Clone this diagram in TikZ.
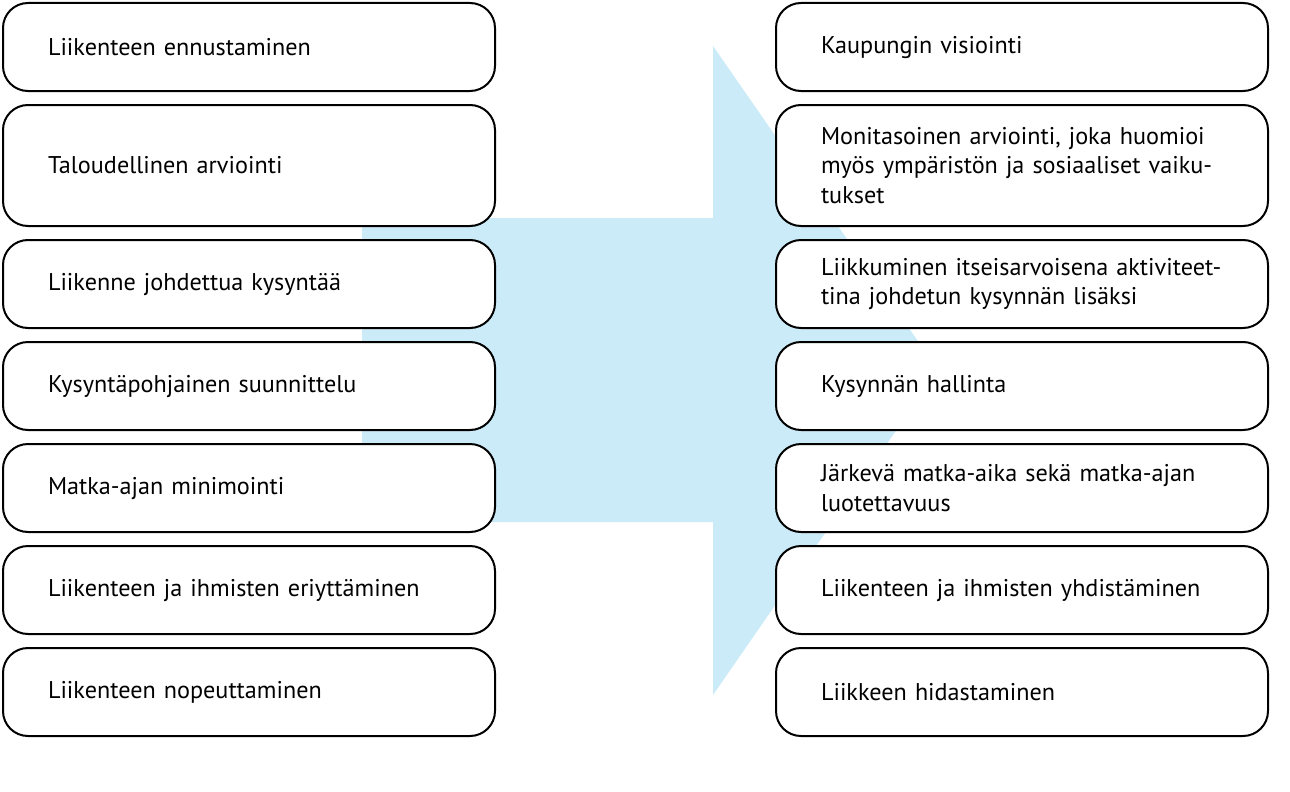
\documentclass[tikz,border=0pt]{standalone}
\usepackage{fontspec}
\setmainfont{PT Sans}
\usepackage{tikz}
\usetikzlibrary{positioning}

\definecolor{arrowblue}{RGB}{204,235,248}

\begin{document}
\begin{tikzpicture}[x=1pt,y=-1pt,node distance=14pt,
                    item node/.style={draw,line width=2pt,rounded corners=25pt,fill=white,
                      minimum height=88pt,text width=402pt,inner xsep=45pt,inner ysep=0pt,
                      outer sep=0pt,align=left,font=\fontsize{24.2}{29.5}\selectfont}]

  \useasboundingbox (0,0) rectangle (1290,792);

  % big arrow behind the boxes
  \fill[arrowblue] (362,218) -- (713,218) -- (713,46) -- (938,370)
    -- (713,695) -- (713,522) -- (362,522) -- cycle;

  % left column
  \node[item node,anchor=north west] (l1) at (3,3) {Liikenteen ennustaminen};
  \node[item node,minimum height=121pt] (l2) [below=of l1] {Taloudellinen arviointi};
  \node[item node] (l3) [below=of l2] {Liikenne johdettua kysyntää};
  \node[item node] (l4) [below=of l3] {Kysyntäpohjainen suunnittelu};
  \node[item node] (l5) [below=of l4] {Matka-ajan minimointi};
  \node[item node] (l6) [below=of l5] {Liikenteen ja ihmisten eriyttäminen};
  \node[item node] (l7) [below=of l6] {Liikenteen nopeuttaminen};

  % right column
  \node[item node,anchor=north west] (r1) at (776,3) {Kaupungin visiointi};
  \node[item node,minimum height=121pt] (r2) [below=of r1]
    {\mbox{Monitasoinen arviointi, joka huomioi}\\\mbox{myös ympäristön ja sosiaaliset vaiku-}\\tukset};
  \node[item node] (r3) [below=of r2]
    {\mbox{Liikkuminen itseisarvoisena aktiviteet-}\\tina johdetun kysynnän lisäksi};
  \node[item node] (r4) [below=of r3] {Kysynnän hallinta};
  \node[item node] (r5) [below=of r4]
    {\mbox{Järkevä matka-aika sekä matka-ajan}\\luotettavuus};
  \node[item node] (r6) [below=of r5] {Liikenteen ja ihmisten yhdistäminen};
  \node[item node] (r7) [below=of r6] {Liikkeen hidastaminen};
\end{tikzpicture}
\end{document}
